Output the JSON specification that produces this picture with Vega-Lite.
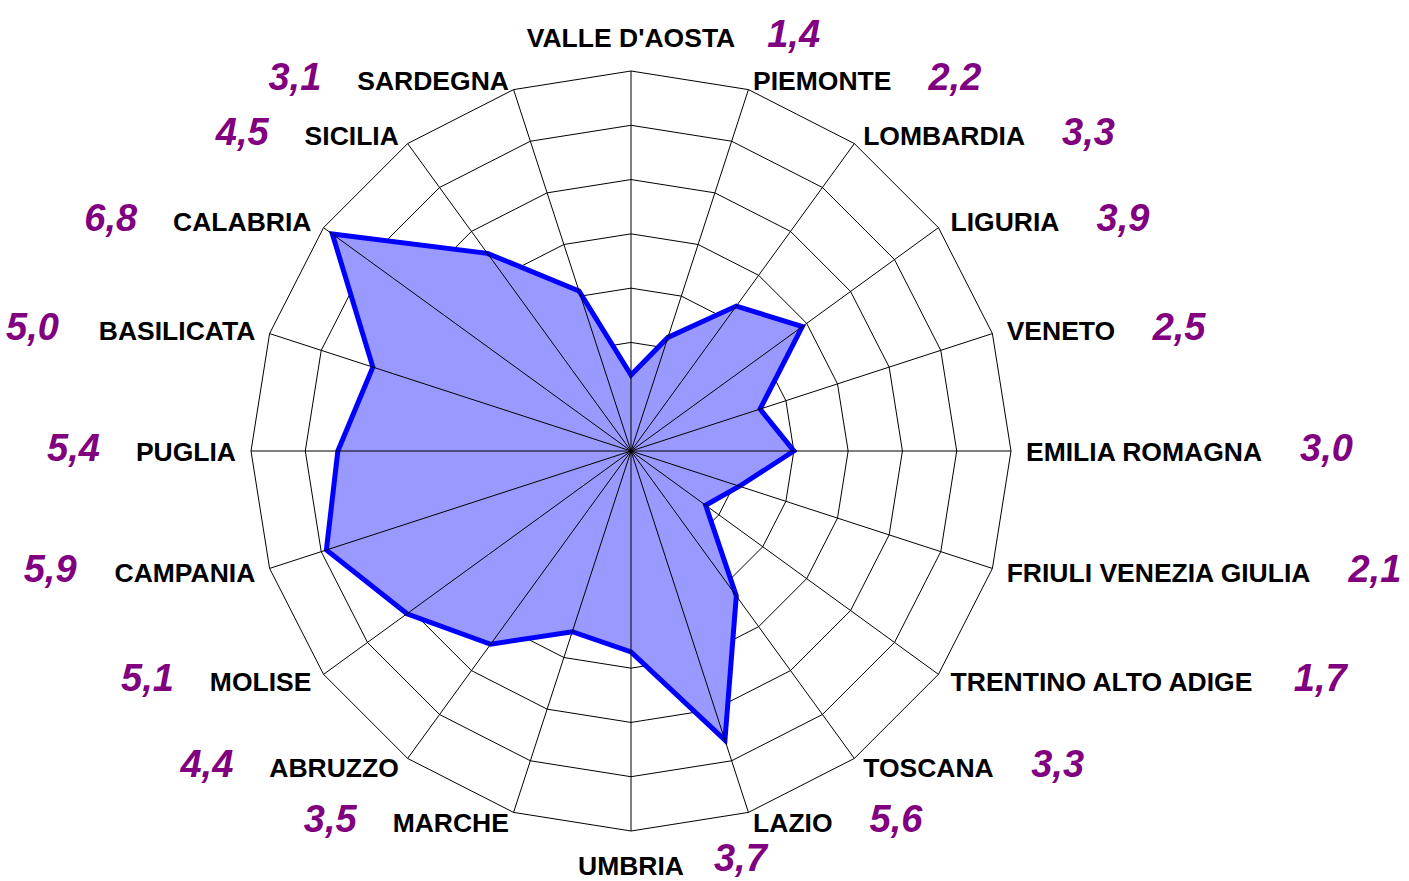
{
  "$schema": "https://vega.github.io/schema/vega-lite/v6.json",
  "width": 760,
  "height": 760,
  "autosize": {"type": "none"},
  "padding": {"left": 251, "top": 71, "right": 398, "bottom": 50},
  "background": "white",
  "config": {"view": {"stroke": null}},
  "data": {
    "values": [
      {"idx": 0, "region": "VALLE D'AOSTA", "value": 1.4},
      {"idx": 1, "region": "PIEMONTE", "value": 2.2},
      {"idx": 2, "region": "LOMBARDIA", "value": 3.3},
      {"idx": 3, "region": "LIGURIA", "value": 3.9},
      {"idx": 4, "region": "VENETO", "value": 2.5},
      {"idx": 5, "region": "EMILIA ROMAGNA", "value": 3.0},
      {"idx": 6, "region": "FRIULI VENEZIA GIULIA", "value": 2.1},
      {"idx": 7, "region": "TRENTINO ALTO ADIGE", "value": 1.7},
      {"idx": 8, "region": "TOSCANA", "value": 3.3},
      {"idx": 9, "region": "LAZIO", "value": 5.6},
      {"idx": 10, "region": "UMBRIA", "value": 3.7},
      {"idx": 11, "region": "MARCHE", "value": 3.5},
      {"idx": 12, "region": "ABRUZZO", "value": 4.4},
      {"idx": 13, "region": "MOLISE", "value": 5.1},
      {"idx": 14, "region": "CAMPANIA", "value": 5.9},
      {"idx": 15, "region": "PUGLIA", "value": 5.4},
      {"idx": 16, "region": "BASILICATA", "value": 5.0},
      {"idx": 17, "region": "CALABRIA", "value": 6.8},
      {"idx": 18, "region": "SICILIA", "value": 4.5},
      {"idx": 19, "region": "SARDEGNA", "value": 3.1}
    ]
  },
  "transform": [
    {"calculate": "datum.idx * PI / 10", "as": "a"},
    {"calculate": "sin(datum.a)", "as": "s"},
    {"calculate": "cos(datum.a)", "as": "c"},
    {"calculate": "datum.value * 380 / 7 * datum.s", "as": "vx"},
    {"calculate": "datum.value * 380 / 7 * datum.c", "as": "vy"},
    {"calculate": "380 * datum.s", "as": "sx"},
    {"calculate": "380 * datum.c", "as": "sy"},
    {"calculate": "0", "as": "zero"},
    {"calculate": "395 * datum.s", "as": "lx"},
    {"calculate": "390.5 * datum.c - 2 + (datum.c > 0.99 ? 23.5 : (datum.c < -0.99 ? -23.5 : 0))", "as": "ly"},
    {"calculate": "replace(format(datum.value, '.1f'), '.', ',')", "as": "vtext"},
    {"calculate": "26.5 * (0.722*length(datum.region) - 0.444*(length(datum.region)-length(replace(datum.region, regexp('[I ]','g'), ''))) - 0.484*(length(datum.region)-length(replace(datum.region, regexp(\"'\",'g'), ''))) + 0.111*(length(datum.region)-length(replace(datum.region, regexp('M','g'), ''))) + 0.056*(length(datum.region)-length(replace(datum.region, regexp('[OG]','g'), ''))) - 0.055*(length(datum.region)-length(replace(datum.region, regexp('[EPSV]','g'), ''))) - 0.111*(length(datum.region)-length(replace(datum.region, regexp('[LTFZ]','g'), ''))))", "as": "w"},
    {"calculate": "datum.s > 0.01 ? datum.lx + datum.w + 37 : (datum.s < -0.01 ? datum.lx - datum.w - 36 : datum.lx + datum.w / 2 + 30)", "as": "vlx"},
    {"calculate": "datum.ly + 3 + (datum.c < -0.99 ? 4 : 0)", "as": "vly"}
  ],
  "layer": [
    {
      "transform": [
        {"calculate": "[1,2,3,4,5,6,7]", "as": "rings"},
        {"flatten": ["rings"]},
        {"calculate": "datum.rings * 380 / 7 * datum.s", "as": "gx"},
        {"calculate": "datum.rings * 380 / 7 * datum.c", "as": "gy"}
      ],
      "mark": {"type": "line", "interpolate": "linear-closed", "stroke": "black", "strokeWidth": 1},
      "encoding": {
        "x": {"field": "gx", "type": "quantitative", "scale": {"domain": [-380, 380], "nice": false, "zero": false}, "axis": null},
        "y": {"field": "gy", "type": "quantitative", "scale": {"domain": [-380, 380], "nice": false, "zero": false}, "axis": null},
        "detail": {"field": "rings"},
        "order": {"field": "idx"}
      }
    },
    {
      "mark": {"type": "line", "interpolate": "linear-closed", "fill": "#9999ff", "stroke": "transparent", "strokeWidth": 0},
      "encoding": {
        "x": {"field": "vx", "type": "quantitative", "scale": {"domain": [-380, 380], "nice": false, "zero": false}, "axis": null},
        "y": {"field": "vy", "type": "quantitative", "scale": {"domain": [-380, 380], "nice": false, "zero": false}, "axis": null},
        "order": {"field": "idx"}
      }
    },
    {
      "mark": {"type": "line", "interpolate": "linear-closed", "stroke": "#0000ff", "strokeWidth": 5, "strokeJoin": "miter"},
      "encoding": {
        "x": {"field": "vx", "type": "quantitative", "scale": {"domain": [-380, 380], "nice": false, "zero": false}, "axis": null},
        "y": {"field": "vy", "type": "quantitative", "scale": {"domain": [-380, 380], "nice": false, "zero": false}, "axis": null},
        "order": {"field": "idx"}
      }
    },
    {
      "mark": {"type": "rule", "stroke": "black", "strokeWidth": 1},
      "encoding": {
        "x": {"field": "zero", "type": "quantitative", "scale": {"domain": [-380, 380], "nice": false, "zero": false}, "axis": null},
        "y": {"field": "zero", "type": "quantitative", "scale": {"domain": [-380, 380], "nice": false, "zero": false}, "axis": null},
        "x2": {"field": "sx"},
        "y2": {"field": "sy"}
      }
    },
    {
      "transform": [{"filter": "datum.s > 0.01"}],
      "mark": {"type": "text", "align": "left", "baseline": "middle", "font": "Liberation Sans", "fontWeight": "bold", "fontSize": 26.5, "color": "black"},
      "encoding": {
        "x": {"field": "lx", "type": "quantitative", "scale": {"domain": [-380, 380], "nice": false, "zero": false}, "axis": null},
        "y": {"field": "ly", "type": "quantitative", "scale": {"domain": [-380, 380], "nice": false, "zero": false}, "axis": null},
        "text": {"field": "region"}
      }
    },
    {
      "transform": [{"filter": "datum.s < -0.01"}],
      "mark": {"type": "text", "align": "right", "baseline": "middle", "font": "Liberation Sans", "fontWeight": "bold", "fontSize": 26.5, "color": "black"},
      "encoding": {
        "x": {"field": "lx", "type": "quantitative", "scale": {"domain": [-380, 380], "nice": false, "zero": false}, "axis": null},
        "y": {"field": "ly", "type": "quantitative", "scale": {"domain": [-380, 380], "nice": false, "zero": false}, "axis": null},
        "text": {"field": "region"}
      }
    },
    {
      "transform": [{"filter": "abs(datum.s) <= 0.01"}],
      "mark": {"type": "text", "align": "center", "baseline": "middle", "font": "Liberation Sans", "fontWeight": "bold", "fontSize": 26.5, "color": "black"},
      "encoding": {
        "x": {"field": "lx", "type": "quantitative", "scale": {"domain": [-380, 380], "nice": false, "zero": false}, "axis": null},
        "y": {"field": "ly", "type": "quantitative", "scale": {"domain": [-380, 380], "nice": false, "zero": false}, "axis": null},
        "text": {"field": "region"}
      }
    },
    {
      "transform": [{"filter": "datum.s >= -0.01"}],
      "mark": {"type": "text", "align": "left", "baseline": "middle", "font": "Liberation Sans", "fontWeight": "bold", "fontStyle": "italic", "fontSize": 38, "color": "#800080"},
      "encoding": {
        "x": {"field": "vlx", "type": "quantitative", "scale": {"domain": [-380, 380], "nice": false, "zero": false}, "axis": null},
        "y": {"field": "vly", "type": "quantitative", "scale": {"domain": [-380, 380], "nice": false, "zero": false}, "axis": null},
        "text": {"field": "vtext"}
      }
    },
    {
      "transform": [{"filter": "datum.s < -0.01"}],
      "mark": {"type": "text", "align": "right", "baseline": "middle", "font": "Liberation Sans", "fontWeight": "bold", "fontStyle": "italic", "fontSize": 38, "color": "#800080"},
      "encoding": {
        "x": {"field": "vlx", "type": "quantitative", "scale": {"domain": [-380, 380], "nice": false, "zero": false}, "axis": null},
        "y": {"field": "vly", "type": "quantitative", "scale": {"domain": [-380, 380], "nice": false, "zero": false}, "axis": null},
        "text": {"field": "vtext"}
      }
    }
  ]
}
